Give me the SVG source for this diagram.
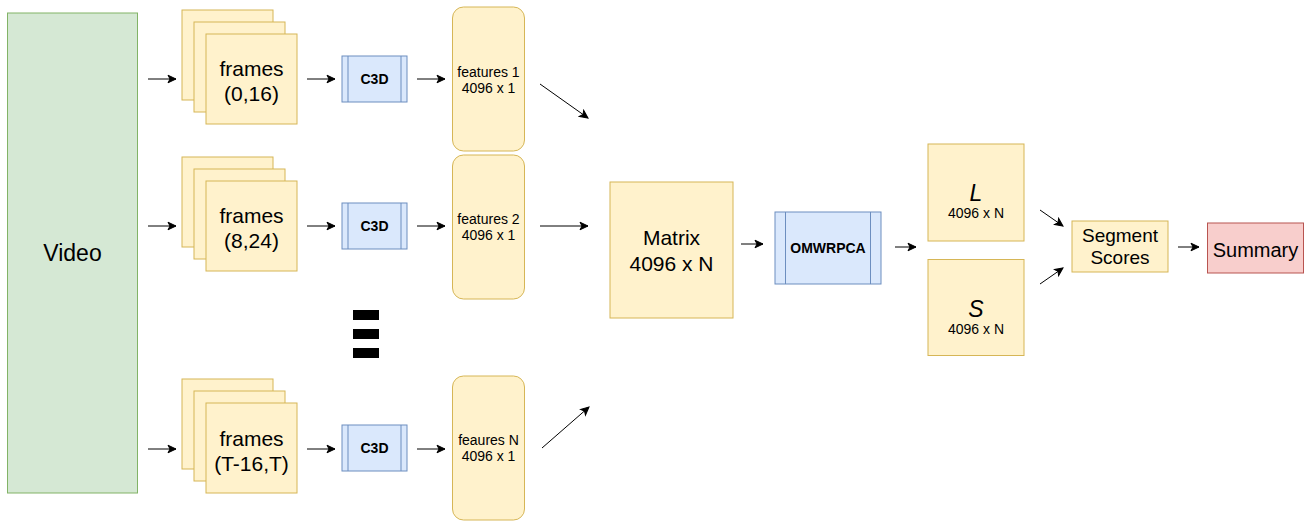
<svg xmlns="http://www.w3.org/2000/svg" width="1312" height="521" viewBox="0 0 1312 521">
  <style>
    text { font-family: "Liberation Sans", Helvetica, Arial, sans-serif; fill: #000; text-anchor: middle; }
    .yel { fill: #fff2cc; stroke: #d6b656; stroke-width: 1; }
    .grn { fill: #d5e8d4; stroke: #82b366; stroke-width: 1; }
    .blu { fill: #dae8fc; stroke: #6c8ebf; stroke-width: 1; }
    .red { fill: #f8cecc; stroke: #b85450; stroke-width: 1; }
    .edge { stroke: #000; stroke-width: 1; fill: none; marker-end: url(#arr); }
    .big { font-size: 21px; }
    .small { font-size: 14px; }
    .proc { font-size: 14px; font-weight: bold; }
  </style>
  <defs>
    <marker id="arr" markerUnits="userSpaceOnUse" markerWidth="10" markerHeight="10" viewBox="0 0 10 10" refX="9" refY="5" orient="auto">
      <path d="M1,1.2 L9,5 L1,8.8 L3,5 z" fill="#000" stroke="#000" stroke-width="1"/>
    </marker>
  </defs>

  <g id="video">
    <rect class="grn" x="7.5" y="13" width="130" height="480"/>
    <text x="72.5" y="261" font-size="23">Video</text>
  </g>

  <!-- frame stacks -->
  <g id="frames1">
    <rect class="yel" x="182" y="10" width="91" height="90"/>
    <rect class="yel" x="194" y="22" width="91" height="90"/>
    <rect class="yel" x="206" y="34" width="91" height="90"/>
    <text class="big" x="251.5" y="76">frames</text>
    <text class="big" x="251.5" y="101">(0,16)</text>
  </g>
  <g id="frames2">
    <rect class="yel" x="182" y="157" width="91" height="90"/>
    <rect class="yel" x="194" y="169" width="91" height="90"/>
    <rect class="yel" x="206" y="181" width="91" height="90"/>
    <text class="big" x="251.5" y="223">frames</text>
    <text class="big" x="251.5" y="248">(8,24)</text>
  </g>
  <g id="frames3">
    <rect class="yel" x="182" y="379" width="91" height="90"/>
    <rect class="yel" x="194" y="391" width="91" height="90"/>
    <rect class="yel" x="206" y="403" width="91" height="90"/>
    <text class="big" x="251.5" y="446">frames</text>
    <text class="big" x="251.5" y="471">(T-16,T)</text>
  </g>

  <!-- C3D blocks -->
  <g id="c3d1">
    <rect class="blu" x="342" y="56" width="65" height="46"/>
    <line class="blu" x1="348" y1="56" x2="348" y2="102"/>
    <line class="blu" x1="401" y1="56" x2="401" y2="102"/>
    <text class="proc" x="374.5" y="84">C3D</text>
  </g>
  <g id="c3d2">
    <rect class="blu" x="342" y="203" width="65" height="46"/>
    <line class="blu" x1="348" y1="203" x2="348" y2="249"/>
    <line class="blu" x1="401" y1="203" x2="401" y2="249"/>
    <text class="proc" x="374.5" y="231">C3D</text>
  </g>
  <g id="c3d3">
    <rect class="blu" x="342" y="425" width="65" height="46"/>
    <line class="blu" x1="348" y1="425" x2="348" y2="471"/>
    <line class="blu" x1="401" y1="425" x2="401" y2="471"/>
    <text class="proc" x="374.5" y="453">C3D</text>
  </g>

  <!-- feature vectors -->
  <g id="features1">
    <rect class="yel" x="452.5" y="7" width="72" height="144" rx="11"/>
    <text class="small" x="488.5" y="77">features 1</text>
    <text class="small" x="488.5" y="93">4096 x 1</text>
  </g>
  <g id="features2">
    <rect class="yel" x="452.5" y="155" width="72" height="144" rx="11"/>
    <text class="small" x="488.5" y="224">features 2</text>
    <text class="small" x="488.5" y="240">4096 x 1</text>
  </g>
  <g id="featuresN">
    <rect class="yel" x="452.5" y="376" width="72" height="144" rx="11"/>
    <text class="small" x="488.5" y="445">feaures N</text>
    <text class="small" x="488.5" y="461">4096 x 1</text>
  </g>

  <!-- ellipsis marks -->
  <g id="ellipsis">
    <rect x="353" y="310" width="26" height="10" fill="#000"/>
    <rect x="353" y="329" width="26" height="10" fill="#000"/>
    <rect x="353" y="348" width="26" height="10" fill="#000"/>
  </g>

  <g id="matrix">
    <rect class="yel" x="610" y="182" width="123" height="136"/>
    <text class="big" x="671.5" y="245">Matrix</text>
    <text class="big" x="671.5" y="271">4096 x N</text>
  </g>

  <g id="omwrpca">
    <rect class="blu" x="775" y="212" width="106" height="72"/>
    <line class="blu" x1="785.5" y1="212" x2="785.5" y2="284"/>
    <line class="blu" x1="870.5" y1="212" x2="870.5" y2="284"/>
    <text class="proc" x="828" y="253">OMWRPCA</text>
  </g>

  <g id="lowrank">
    <rect class="yel" x="928" y="144" width="96" height="97"/>
    <text x="976" y="201" font-size="23" font-style="italic">L</text>
    <text class="small" x="976" y="218">4096 x N</text>
  </g>
  <g id="sparse">
    <rect class="yel" x="928" y="259.5" width="96" height="96"/>
    <text x="976" y="317" font-size="23" font-style="italic">S</text>
    <text class="small" x="976" y="334">4096 x N</text>
  </g>

  <g id="segment">
    <rect class="yel" x="1072" y="221" width="96" height="51"/>
    <text x="1120" y="242" font-size="19">Segment</text>
    <text x="1120" y="264" font-size="19">Scores</text>
  </g>

  <g id="summary">
    <rect class="red" x="1207.5" y="223" width="96" height="50"/>
    <text x="1255.5" y="257" font-size="20">Summary</text>
  </g>

  <g id="connectors">
    <line class="edge" x1="148" y1="79" x2="176" y2="79"/>
    <line class="edge" x1="148" y1="226" x2="176" y2="226"/>
    <line class="edge" x1="148" y1="449" x2="176" y2="449"/>
    <line class="edge" x1="307" y1="79" x2="335" y2="79"/>
    <line class="edge" x1="307" y1="226" x2="335" y2="226"/>
    <line class="edge" x1="307" y1="449" x2="335" y2="449"/>
    <line class="edge" x1="417" y1="79" x2="445" y2="79"/>
    <line class="edge" x1="417" y1="226" x2="445" y2="226"/>
    <line class="edge" x1="417" y1="449" x2="445" y2="449"/>
    <line class="edge" x1="540" y1="84" x2="588" y2="118"/>
    <line class="edge" x1="540" y1="226" x2="588" y2="226"/>
    <line class="edge" x1="542" y1="448" x2="589" y2="407"/>
    <line class="edge" x1="741" y1="244" x2="763" y2="244"/>
    <line class="edge" x1="895" y1="247" x2="916" y2="247"/>
    <line class="edge" x1="1040" y1="210" x2="1063" y2="226"/>
    <line class="edge" x1="1040" y1="284" x2="1063" y2="268"/>
    <line class="edge" x1="1178" y1="247" x2="1199" y2="247"/>
  </g>
</svg>
